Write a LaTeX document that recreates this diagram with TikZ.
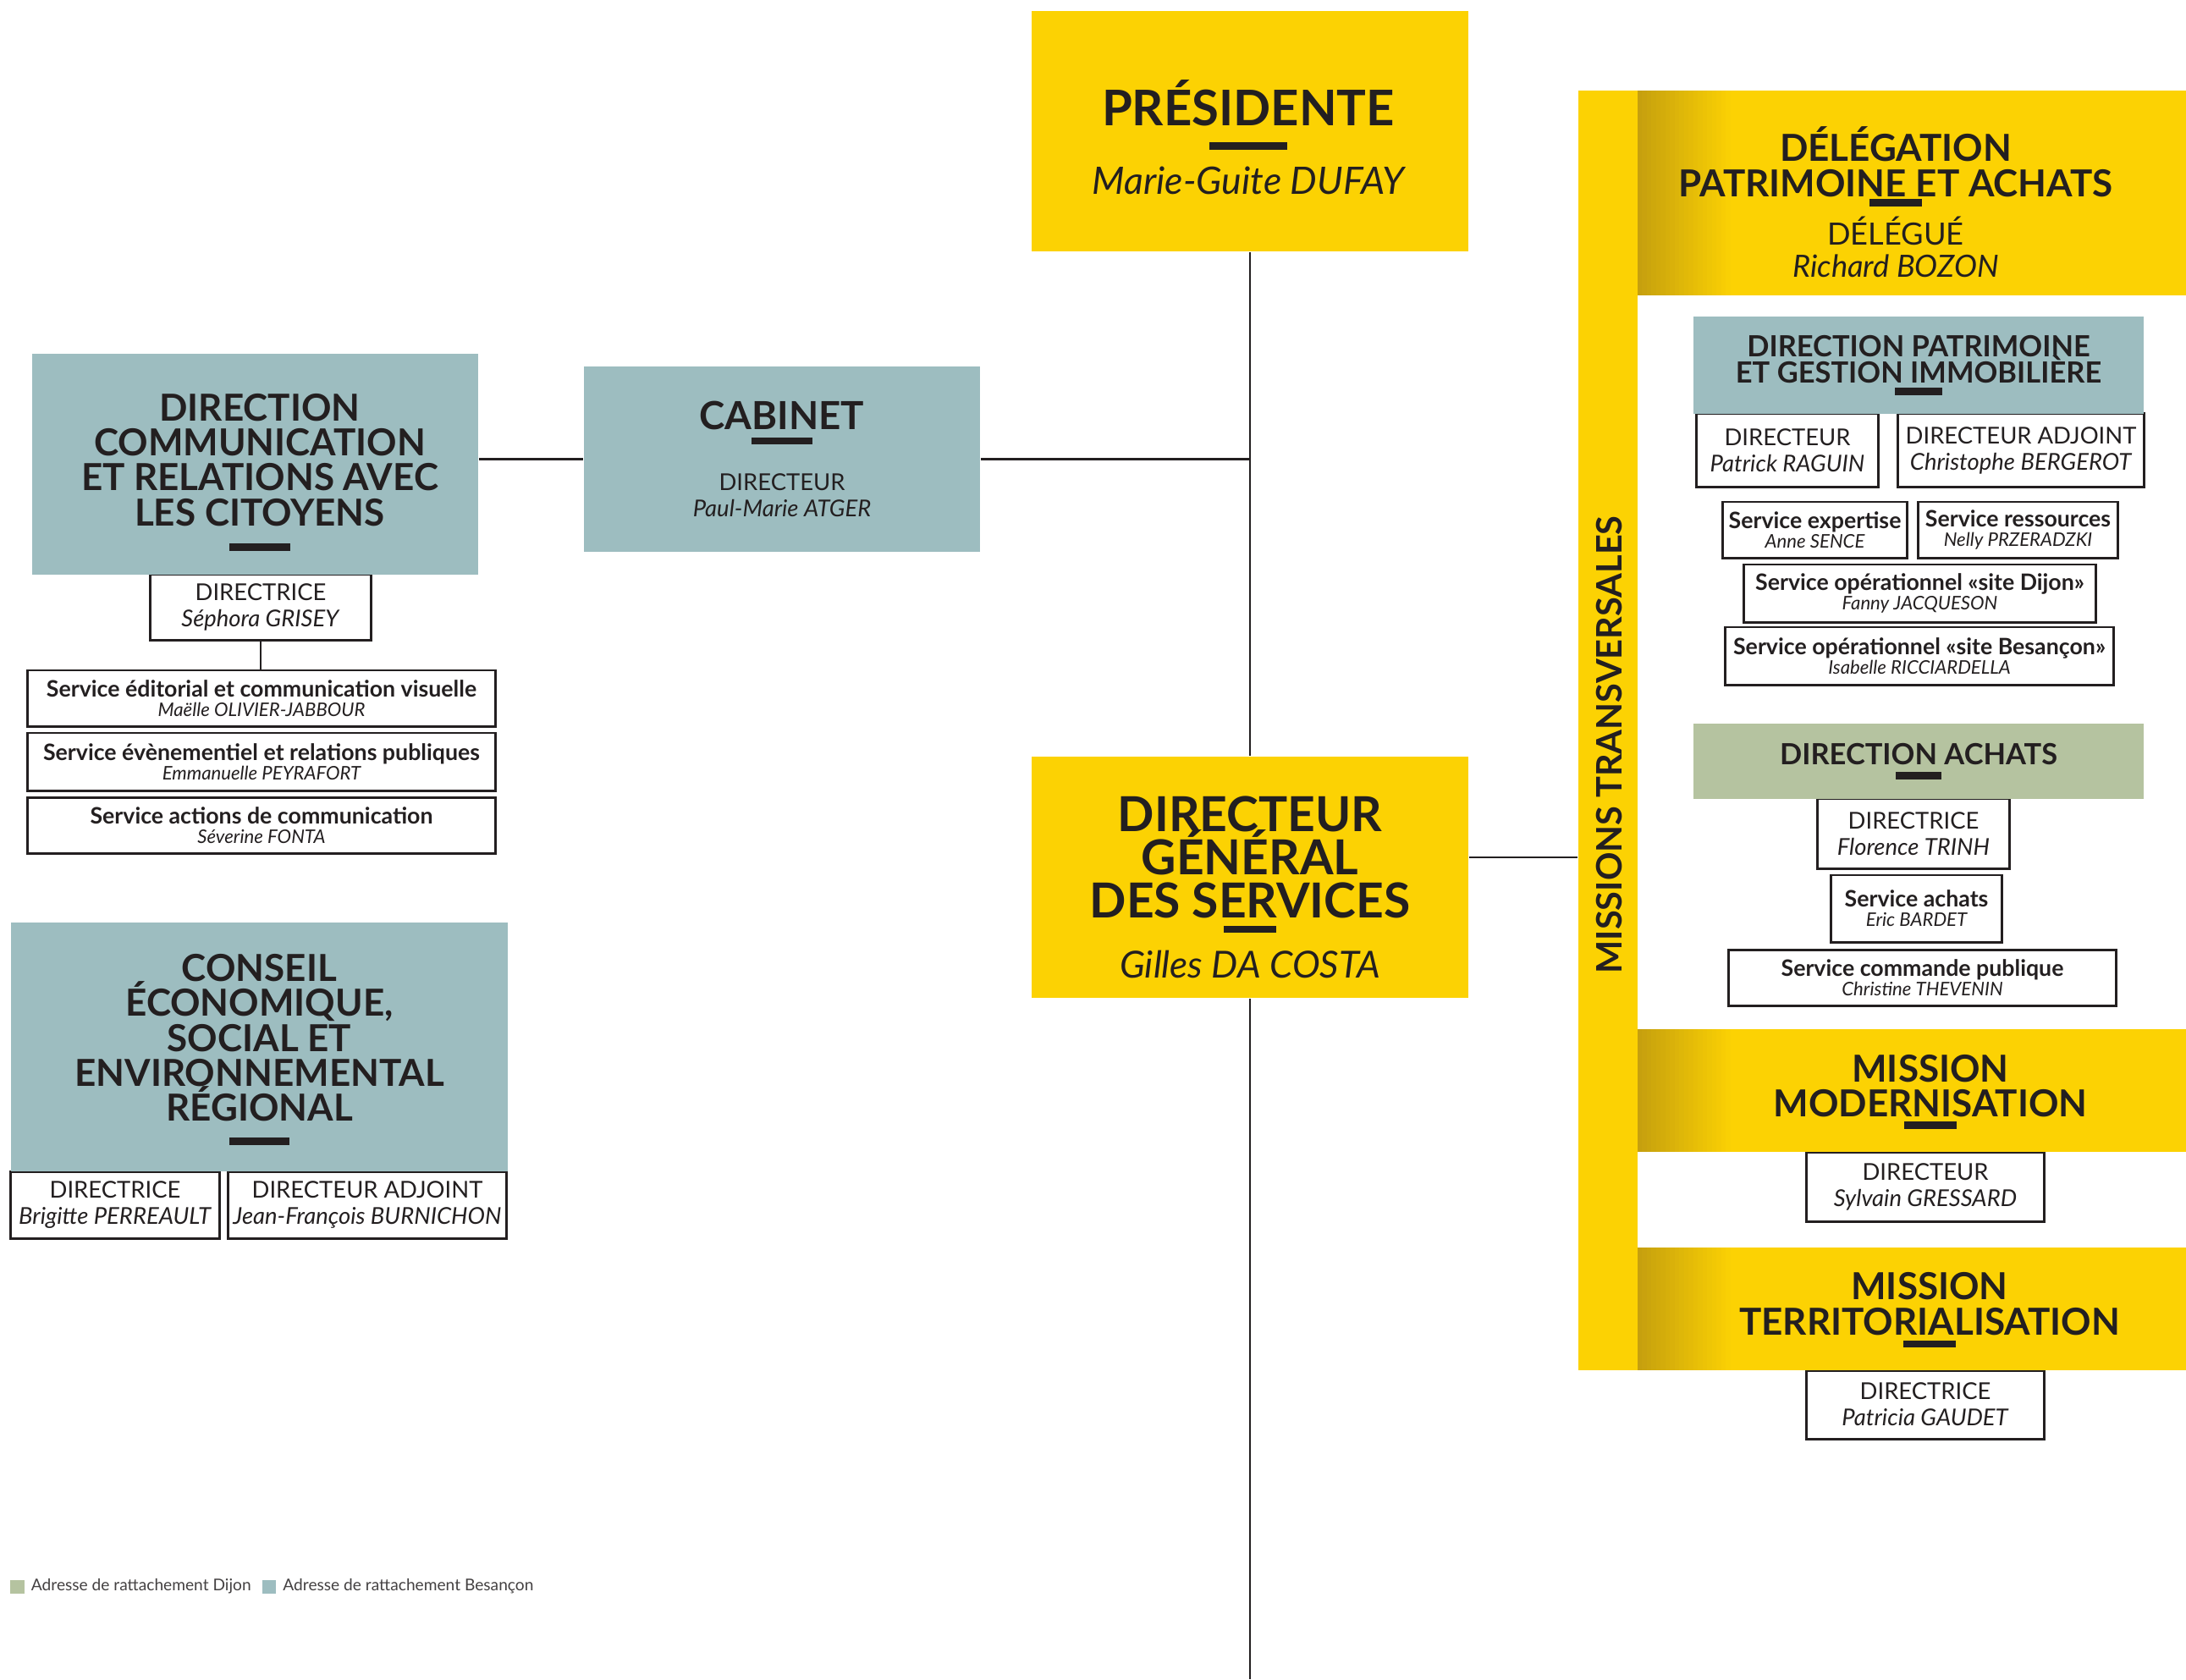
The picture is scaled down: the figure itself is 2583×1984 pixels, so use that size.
\documentclass[tikz,border=0pt]{standalone}
\usepackage{fontspec}
\setmainfont{Lato}
\usetikzlibrary{positioning}
\definecolor{jaune}{HTML}{FCD203}
\definecolor{orfonce}{HTML}{C6A00E}
\definecolor{bleu}{HTML}{9DBDC0}
\definecolor{vert}{HTML}{B5C3A0}
\definecolor{encre}{HTML}{231F20}
\newcommand{\barre}[1]{\rule{#1cm}{0.085cm}}
\newcommand{\nomsrv}{\fontsize{6.3}{7}\selectfont\itshape}
\newcommand{\poste}[2][7.8]{{\fontsize{#1}{9}\selectfont\mdseries #2}}
\newcommand{\personne}[2][7.8]{{\fontsize{#1}{9}\selectfont\mdseries\itshape #2}}

\begin{document}
\lineskiplimit=-50pt
\begin{tikzpicture}[x=0.01cm, y=-0.01cm,
  trait/.style={draw=encre, line width=0.8pt},
  boite/.style={rectangle, inner sep=0pt, align=center, text=encre},
  taille/.style 2 args={minimum width=#1cm, minimum height=#2cm},
  jaunebox/.style={boite, fill=jaune},
  bleubox/.style={boite, fill=bleu},
  vertbox/.style={boite, fill=vert},
  bandeau/.style={jaunebox, path picture={
    \foreach \i [evaluate=\i as \p using int(5*\i)] in {0,...,20}
      \fill[jaune!\p!orfonce] ([xshift=\i*0.055cm]path picture bounding box.south west) rectangle ([xshift=\i*0.055cm+0.06cm]path picture bounding box.north west);}},
  cadre/.style={boite, draw=encre, line width=0.85pt, fill=white},
  qui/.style={cadre, font=\fontsize{7.8}{8.8}\selectfont},
  srv/.style={cadre, font=\fontsize{7.6}{6.5}\selectfont},
  titre/.style={boite, font=\fontsize{12.5}{11.75}\selectfont\bfseries},
  sstitre/.style={font=\fontsize{9.8}{9}\selectfont\bfseries}]
  \fill[white] (0,0) rectangle (2583,1984);
  \useasboundingbox (0,0) rectangle (2583,1984);

  \node[qui, taille={2.60}{0.77}] (dircomdir) at (308,717.5) {DIRECTRICE\\\textit{Séphora GRISEY}};
  \node[srv, taille={5.52}{0.66}] (serv1) at (309,825) {\textbf{Service éditorial et communication visuelle}\\{\nomsrv Maëlle OLIVIER-JABBOUR}};
  \node[srv, taille={5.52}{0.68}] (serv2) at (309,900) {\textbf{Service évènementiel et relations publiques}\\{\nomsrv Emmanuelle PEYRAFORT}};
  \node[srv, taille={5.52}{0.66}] (serv3) at (309,975) {\textbf{Service actions de communication}\\{\nomsrv Séverine FONTA}};
  \node[qui, taille={2.46}{0.79}] (ceserdir) at (136,1423.5) {DIRECTRICE\\\textit{Brigitte PERREAULT}};
  \node[qui, taille={3.28}{0.79}] (ceseradj) at (434,1423.5) {DIRECTEUR ADJOINT\\\textit{Jean-François BURNICHON}};
  \node[qui, taille={2.14}{0.86}] (dpgidir) at (2112,532) {DIRECTEUR\\\textit{Patrick RAGUIN}};
  \node[qui, taille={2.90}{0.86}] (dpgiadj) at (2388,532) {DIRECTEUR ADJOINT\\\textit{Christophe BERGEROT}};
  \node[srv, taille={2.17}{0.66}] (sexp) at (2144.5,626) {\textbf{Service expertise}\\{\nomsrv Anne SENCE}};
  \node[srv, taille={2.35}{0.66}] (sres) at (2384.5,626) {\textbf{Service ressources}\\{\nomsrv Nelly PRZERADZKI}};
  \node[srv, taille={4.15}{0.68}] (sdijon) at (2268.5,701) {\textbf{Service opérationnel «site Dijon»}\\{\nomsrv Fanny JACQUESON}};
  \node[srv, taille={4.58}{0.68}] (sbes) at (2268,775) {\textbf{Service opérationnel «site Besançon»}\\{\nomsrv Isabelle RICCIARDELLA}};
  \node[qui, taille={2.26}{0.82}] (dachdir) at (2261,985) {DIRECTRICE\\\textit{Florence TRINH}};
  \node[srv, taille={2.01}{0.79}] (sach) at (2264.5,1073.5) {\textbf{Service achats}\\{\nomsrv Eric BARDET}};
  \node[srv, taille={4.57}{0.66}] (scmd) at (2271.5,1155) {\textbf{Service commande publique}\\{\nomsrv Christine THEVENIN}};
  \node[qui, taille={2.80}{0.82}] (mmoddir) at (2275,1402) {DIRECTEUR\\\textit{Sylvain GRESSARD}};
  \node[qui, taille={2.80}{0.81}] (mterrdir) at (2275,1659.5) {DIRECTRICE\\\textit{Patricia GAUDET}};

  \node[jaunebox, taille={5.16}{2.84}] (pres) at (1477,155) {};
  \node[boite, font=\fontsize{16.5}{12}\selectfont\bfseries] (prestxt) at (1475,162) {PRÉSIDENTE\\[-4pt]\barre{0.92}\\[3pt]\personne[12.7]{Marie-Guite DUFAY}};
  \node[jaunebox, taille={5.16}{2.85}] (dgs) at (1477,1036.5) {};
  \node[boite, font=\fontsize{16.2}{14.5}\selectfont\bfseries] (dgstxt) at (1477,1048) {DIRECTEUR\\GÉNÉRAL\\DES SERVICES\\[-9.4pt]\barre{0.62}\\[0.5pt]\personne[12.5]{Gilles DA COSTA}};
  \node[bleubox, taille={4.68}{2.19}, font=\fontsize{13}{12}\selectfont\bfseries] (cab) at (924,542.5) {CABINET\\[-7pt]\barre{0.71}\\[3.4pt]\poste{DIRECTEUR}\\[-3.2pt]\personne{Paul-Marie ATGER}};
  \node[bleubox, taille={5.27}{2.61}] (dircom) at (301.5,548.5) {};
  \node[titre] (dircomtxt) at (307,558) {DIRECTION\\COMMUNICATION\\ET RELATIONS AVEC\\LES CITOYENS\\[-3.3pt]\barre{0.71}};
  \node[bleubox, taille={5.87}{2.94}] (ceser) at (306.5,1237) {};
  \node[titre] (cesertxt) at (306.5,1240) {CONSEIL\\ÉCONOMIQUE,\\SOCIAL ET\\ENVIRONNEMENTAL\\RÉGIONAL\\[-3.8pt]\barre{0.71}};

  \node[jaunebox, taille={0.70}{15.12}] (mt) at (1900,863) {};
  \node[boite, rotate=90, font=\fontsize{11.8}{14}\selectfont\bfseries] (mttxt) at (1901,880) {MISSIONS TRANSVERSALES};
  \node[bandeau, taille={6.48}{2.42}] (deleg) at (2259,228) {};
  \node[boite, font=\fontsize{12.5}{12}\selectfont\bfseries] (delegtxt) at (2240,239) {DÉLÉGATION\\PATRIMOINE ET ACHATS\\[-8.9pt]\barre{0.62}\\[1.1pt]\poste[10.3]{DÉLÉGUÉ}\\[-1.2pt]\personne[10.3]{Richard BOZON}};
  \node[bleubox, taille={5.32}{1.15}, sstitre] (dpgi) at (2267,431.5) {DIRECTION PATRIMOINE\\ET GESTION IMMOBILIÈRE\\[-5pt]\barre{0.56}};
  \node[vertbox, taille={5.32}{0.89}, sstitre] (dach) at (2267,899.5) {DIRECTION ACHATS\\[-4.2pt]\barre{0.54}};
  \node[bandeau, taille={6.48}{1.45}] (mmod) at (2259,1288.5) {};
  \node[titre] (mmodtxt) at (2281,1290) {MISSION\\MODERNISATION\\[-7.7pt]\barre{0.62}};
  \node[bandeau, taille={6.48}{1.45}] (mterr) at (2259,1546.5) {};
  \node[titre] (mterrtxt) at (2280,1548) {MISSION\\TERRITORIALISATION\\[-7.5pt]\barre{0.62}};

  \coordinate (bas) at (1477,1984);
  \draw[trait] (pres) -- (dgs);
  \draw[trait] (dgs.south) -- (bas);
  \draw[trait] (cab.east) -- (cab.east -| pres.south);
  \draw[trait] (dircom.east |- cab.west) -- (cab.west);
  \draw[trait] (dircomdir.south) -- (dircomdir.south |- serv1.north);
  \draw[trait] ([yshift=0.235cm]dgs.east) -- ([yshift=0.235cm]dgs.east -| mt.west);

  \node[fill=vert, minimum size=0.16cm, inner sep=0pt] (cledijon) at (20.5,1874.5) {};
  \node[right=0.07cm of cledijon, inner sep=0pt, text=encre!85, font=\fontsize{5.45}{6}\selectfont] (txtdijon) {Adresse de rattachement Dijon};
  \node[fill=bleu, minimum size=0.16cm, inner sep=0pt] (clebes) at (318,1874.5) {};
  \node[right=0.07cm of clebes, inner sep=0pt, text=encre!85, font=\fontsize{5.45}{6}\selectfont] (txtbes) {Adresse de rattachement Besançon};
\end{tikzpicture}
\end{document}
